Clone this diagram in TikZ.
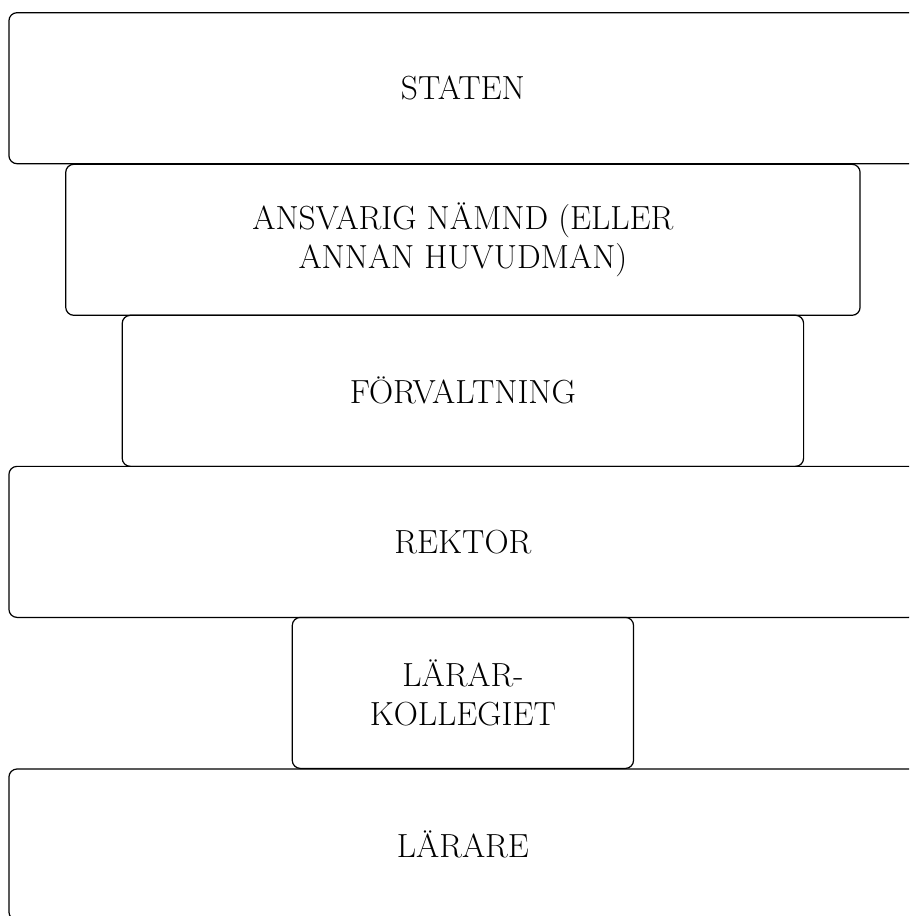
\documentclass[tikz,border=0pt]{standalone}
\usepackage{tikz}
\usetikzlibrary{positioning}

\tikzset{
    level/.style={draw, rounded corners=4pt, line width=0.6pt, minimum height=2.62cm,
        align=center, font=\fontsize{16.5}{19.3}\selectfont}
}

\begin{document}
\begin{tikzpicture}
        % frame of the picture, the wide boxes run out of it
        \useasboundingbox (0,0) rectangle (15.77,-15.89);
        \clip (0,0) rectangle (15.77,-15.89);

        % top levels
        \node[level, minimum width=15.75cm] (staten) at (8.03,-1.53) {STATEN};
        \node[level, minimum width=13.78cm] (namnd) at (8.03,-4.16) {ANSVARIG NÄMND (ELLER\\ANNAN HUVUDMAN)};
        \node[level, minimum width=11.82cm] (forvaltning) at (8.03,-6.78) {FÖRVALTNING};

        % school levels
        \node[level, minimum width=15.75cm] (rektor) at (8.03,-9.40) {REKTOR};
        \node[level, minimum width=5.92cm] (kollegiet) at (8.03,-12.02) {LÄRAR-\\KOLLEGIET};
        \node[level, minimum width=15.75cm] (larare) at (8.03,-14.65) {LÄRARE};

    \end{tikzpicture}
\end{document}
